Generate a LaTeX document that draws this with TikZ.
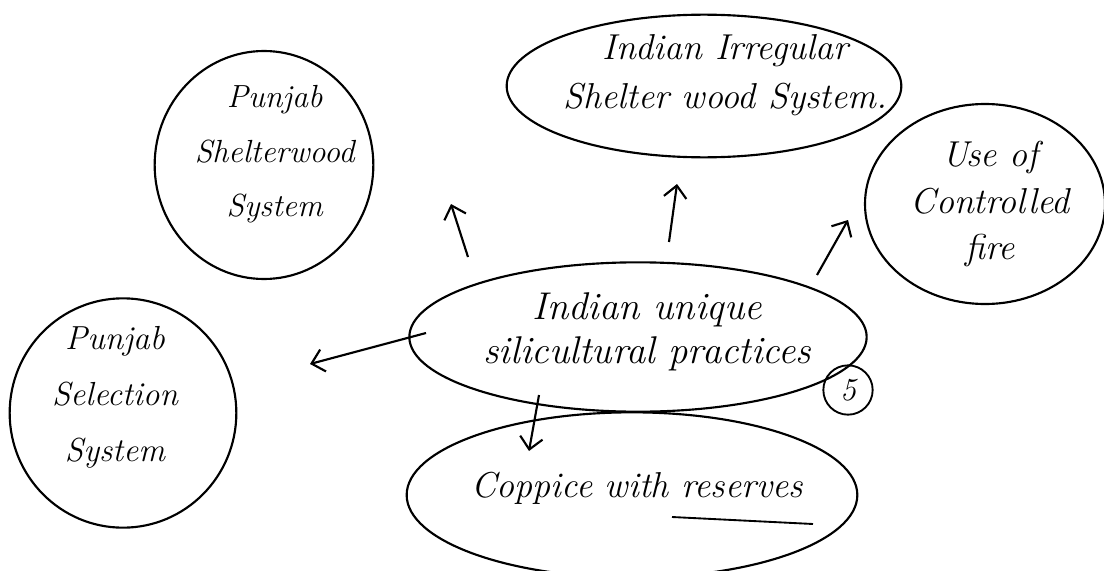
\documentclass[tikz,border=0pt]{standalone}
\usetikzlibrary{shapes.geometric,arrows.meta,positioning}
\newcommand{\handsize}[2]{\fontsize{#1}{#2}\selectfont\itshape}
\tikzset{
  bubble/.style={draw, ellipse, line width=1.6pt, inner sep=0pt},
  hand/.style={align=center, inner sep=0pt},
  arr/.style={line width=1.6pt, -{Straight Barb[length=9pt,width=17pt,line width=1.6pt]}},
}
\begin{document}
\begin{tikzpicture}[x=0.75pt,y=-0.75pt]
  \useasboundingbox (0,0) rectangle (1104,571);
  \clip (0,0) rectangle (1104,571);

  % centre topic
  \node [bubble, minimum width=343pt, minimum height=112pt,
    label={[hand, font=\handsize{29}{33}, xshift=7pt, yshift=4pt]center:Indian unique\\silicultural practices}]
    (mid) at (638,337) {};

  % the five practices
  \node [bubble, minimum width=164pt, minimum height=171pt,
    label={[hand, font=\handsize{24}{41}, xshift=8pt, yshift=8pt]center:Punjab\\Shelterwood\\System}]
    (psw) at (264,165) {};
  \node [bubble, minimum width=296pt, minimum height=107pt,
    label={[hand, font=\handsize{27}{37}, xshift=16pt, yshift=8pt]center:Indian Irregular\\Shelter wood System.}]
    (iis) at (704,86) {};
  \node [bubble, minimum width=180pt, minimum height=150pt,
    label={[hand, font=\handsize{27}{35}, xshift=4pt]center:Use of\\Controlled\\fire}]
    (fire) at (985,204) {};
  \node [bubble, minimum width=170pt, minimum height=172pt,
    label={[hand, font=\handsize{25}{42}, xshift=-6pt, yshift=12pt]center:Punjab\\Selection\\System}]
    (pss) at (123,413) {};
  \node [bubble, minimum width=338pt, minimum height=124pt,
    label={[hand, font=\handsize{27}{30}, xshift=4pt, yshift=5pt]center:Coppice with reserves}]
    (cws) at (632,495) {};

  % marks
  \node [draw, circle, line width=1.4pt, minimum size=37pt, inner sep=0pt,
    font=\handsize{24}{24}] (five) at (848,390) {5};
  \draw [line width=1.4pt] (672,517) -- (813,524);

  % arrow ends
  \coordinate (psw-in) at (468,257);  \coordinate (psw-tip) at (451,204);
  \coordinate (iis-in) at (669,242);  \coordinate (iis-tip) at (677,184);
  \coordinate (fire-in) at (817,275); \coordinate (fire-tip) at (848,220);
  \coordinate (pss-in) at (426,333);  \coordinate (pss-tip) at (310,364);
  \coordinate (cws-in) at (539,395);  \coordinate (cws-tip) at (529,451);

  \foreach \n in {psw,iis,fire,pss,cws} {
    \draw [arr] (\n-in) -- (\n-tip);
  }
\end{tikzpicture}
\end{document}
